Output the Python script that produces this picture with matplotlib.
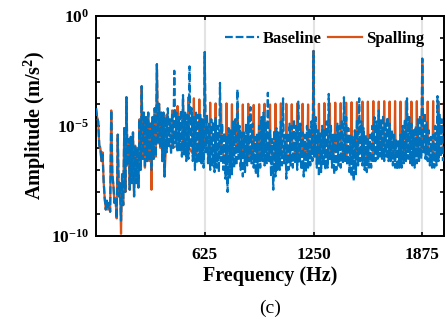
import numpy as np
import matplotlib
matplotlib.use('Agg')
from matplotlib import pyplot as plt

###############################################################################
# spectra, log10 of amplitude (m/s^2)
# baseline: max / min value inside each 12.5 Hz bin, 0 .. 1987.5 Hz
bin_step = 12.5
base_hi = [-4.2, -4.8, -6.0, -6.2, -8.3, -8.4, -8.5, -4.3,      # 0
           -7.7, -8.3, -5.4, -7.6, -7.2, -5.1, -3.7, -5.6,      # 100
           -5.5, -5.3, -5.9, -6.0, -4.7, -3.2, -4.4, -4.6,      # 200
           -4.4, -4.9, -4.6, -4.2, -2.2, -4.0, -4.4, -4.4,      # 300
           -4.6, -4.2, -4.7, -4.4, -2.5, -4.4, -4.6, -4.3,      # 400
           -3.6, -4.4, -4.5, -2.3, -4.2, -4.6, -4.4, -4.5,      # 500
           -4.5, -4.7, -1.65, -4.5, -4.9, -4.7, -4.8, -4.6,     # 600
           -5.0, -3.05, -4.9, -5.3, -5.5, -5.1, -5.2, -4.8,     # 700
           -4.7, -3.35, -5.0, -5.3, -5.3, -4.9, -4.6, -4.15,    # 800
           -4.9, -5.5, -5.4, -5.0, -4.6, -4.4, -4.8, -3.5,      # 900
           -5.2, -5.6, -5.2, -5.1, -5.3, -4.8, -3.75, -5.4,     # 1000
           -5.3, -4.9, -5.0, -4.7, -5.0, -3.9, -4.9, -5.3,      # 1100
           -5.4, -5.0, -5.1, -4.8, -1.6, -4.6, -5.2, -5.3,      # 1200
           -5.0, -5.2, -4.8, -3.55, -5.0, -5.4, -5.3, -4.9,     # 1300
           -5.0, -4.7, -3.7, -4.6, -5.1, -5.4, -5.5, -5.2,      # 1400
           -4.7, -3.75, -4.8, -5.1, -5.4, -5.6, -5.4, -5.0,     # 1500
           -4.6, -4.8, -4.3, -4.7, -4.5, -4.8, -4.6, -4.9,      # 1600
           -5.2, -5.4, -5.6, -5.7, -5.4, -5.0, -4.7, -3.75,     # 1700
           -4.6, -4.9, -5.2, -5.0, -4.7, -4.5, -1.95, -4.4,     # 1800
           -4.8, -5.2, -5.5, -5.4, -5.0, -3.65, -4.5, -4.7]     # 1900
base_lo = [-4.6, -5.9, -6.6, -7.5, -8.8, -8.8, -8.9, -7.2,
           -8.5, -9.2, -8.2, -9.3, -8.6, -8.0, -6.8, -7.9,
           -7.6, -8.2, -7.6, -7.8, -7.0, -6.5, -6.9, -6.6,
           -6.6, -7.0, -6.5, -6.4, -5.8, -6.0, -6.6, -7.3,
           -6.2, -6.0, -6.3, -6.0, -5.8, -6.2, -6.1, -6.4,
           -6.3, -6.6, -6.5, -6.0, -6.6, -7.0, -6.7, -6.6,
           -6.7, -6.9, -6.2, -6.7, -7.0, -6.8, -7.1, -6.9,
           -7.1, -6.6, -7.0, -7.4, -8.0, -7.4, -7.2, -6.9,
           -6.8, -6.5, -7.0, -7.3, -7.1, -6.8, -6.6, -6.7,
           -6.9, -7.2, -7.3, -6.9, -6.6, -6.8, -6.7, -6.6,
           -7.3, -7.9, -7.3, -7.0, -7.0, -6.8, -6.7, -7.4,
           -7.0, -6.8, -6.9, -6.7, -7.0, -6.7, -7.0, -7.3,
           -7.1, -6.9, -6.8, -6.6, -6.4, -6.9, -7.3, -7.1,
           -6.8, -7.0, -6.9, -6.6, -6.9, -7.2, -7.0, -6.8,
           -6.9, -6.7, -6.6, -6.8, -7.1, -7.3, -7.5, -7.2,
           -6.8, -6.6, -6.8, -7.0, -7.1, -6.9, -6.9, -6.7,
           -6.6, -6.5, -6.4, -6.5, -6.6, -6.4, -6.6, -6.6,
           -6.8, -6.9, -7.0, -6.9, -6.9, -6.7, -6.6, -6.5,
           -6.7, -6.8, -6.9, -6.7, -6.6, -6.5, -6.2, -6.5,
           -6.6, -6.8, -6.9, -6.9, -6.8, -6.6, -6.4, -6.6]

# spalling below 400 Hz (same 12.5 Hz bins), nearly on top of the baseline
spall_hi = [-4.2, -4.8, -6.0, -6.2, -8.3, -8.4, -8.5, -4.3,
            -7.7, -8.3, -5.4, -7.6, -7.2, -5.1, -3.7, -5.6,
            -5.5, -5.3, -5.9, -6.0, -4.7, -3.2, -4.4, -4.6,
            -4.4, -4.9, -4.6, -4.2, -2.2, -4.0, -4.4, -4.4]
spall_lo = [-4.6, -5.9, -6.6, -7.5, -8.8, -8.8, -8.9, -7.2,
            -8.5, -9.2, -8.2, -9.9, -8.6, -8.0, -6.8, -7.9,
            -7.6, -8.2, -7.6, -7.8, -7.0, -6.5, -6.9, -6.6,
            -6.6, -7.9, -6.5, -6.4, -5.8, -6.0, -6.6, -7.3]

# spalling comb above 400 Hz: one tooth every 31.25 Hz (harmonics 13..64)
tooth_n = np.arange(13, 65)
tooth_top = [-4.5, -4.3, -4.1, -3.8, -3.7, -3.75, -3.8,
             -1.65, -3.95, -3.98, -4.0, -3.98, -4.02, -4.0, -4.03, -4.0, -4.05,
             -4.02, -4.0, -4.03, -4.0, -3.98, -4.0, -4.02, -3.98, -4.0, -4.03,
             -1.6, -4.0, -3.97, -3.98, -3.95, -3.97, -3.95, -3.93, -3.92, -3.9,
             -3.9, -3.88, -3.9, -3.88, -3.9, -3.88, -3.9, -3.88, -3.9, -3.88,
             -1.95, -3.9, -3.88, -3.9, -3.9]
tooth_low = [-5.8, -6.0, -5.9, -6.2, -6.0, -6.3, -6.1,
             -6.0, -6.2, -6.4, -6.1, -6.6, -6.3, -6.0, -6.2, -6.5, -6.1,
             -6.3, -6.0, -6.2, -6.5, -6.2, -6.7, -6.0, -6.3, -6.1, -6.2,
             -6.0, -6.4, -6.1, -6.3, -6.2, -6.0, -6.5, -6.6, -6.2, -6.0,
             -6.4, -6.3, -6.1, -5.9, -6.0, -6.2, -6.4, -6.0, -5.9, -6.1,
             -6.0, -6.3, -6.4, -6.1, -6.0]

labels = ('Baseline', 'Spalling')
colors = ('#0072BD', '#D95319')
xtick_vals = [625, 1250, 1875]

###############################################################################
plt.rcParams['font.family'] = 'Liberation Serif'
plt.rcParams['font.weight'] = 'bold'
plt.rcParams['mathtext.fontset'] = 'custom'
plt.rcParams['mathtext.rm'] = 'Liberation Serif:bold'
plt.rcParams['mathtext.bf'] = 'Liberation Serif:bold'
plt.rcParams['mathtext.it'] = 'Liberation Serif:bold:italic'


def zigzag(f, hi, lo, step):
    # max then min of each bin, drawn as one dense line
    x = np.empty(2 * len(f))
    y = np.empty(2 * len(f))
    x[0::2] = f
    x[1::2] = f + step / 2
    y[0::2] = hi
    y[1::2] = lo
    return x, 10.0 ** y


fb = np.arange(len(base_hi)) * bin_step
bx, by = zigzag(fb, base_hi, base_lo, bin_step)

fs = np.arange(len(spall_hi)) * bin_step
sx, sy = zigzag(fs, spall_hi, spall_lo, bin_step)
tf = tooth_n * 31.25
w = 3.5   # half width of a tooth (Hz)
tx = np.column_stack([tf - w, tf, tf + w]).ravel()
ty = 10.0 ** np.column_stack([tooth_low, tooth_top, tooth_low]).ravel()
sx = np.concatenate([sx, tx])
sy = np.concatenate([sy, ty])

fig = plt.figure(figsize=(4.48, 3.2), dpi=100)
ax = fig.add_axes([0.2143, 0.2625, 0.7768, 0.6885])

for xv in xtick_vals:
    ax.axvline(xv, color='#e3e3e3', linewidth=1.5, zorder=0)

l2, = ax.plot(sx, sy, color=colors[1], linewidth=1.6, zorder=2, label=labels[1])
l1, = ax.plot(bx, by, color=colors[0], linewidth=1.6, linestyle='--',
              dashes=(3.5, 1.3), zorder=3, label=labels[0])

ax.set_yscale('log')
ax.set_xlim(0, 2000)
ax.set_ylim(1e-10, 1e0)
ax.set_xticks(xtick_vals)
ax.set_xticklabels([str(v) for v in xtick_vals])
yt = [10.0 ** e for e in range(-10, 1)]
ax.set_yticks(yt)
ax.set_yticklabels([r'$10^{%d}$' % e if e % 5 == 0 else '' for e in range(-10, 1)])
ax.yaxis.set_minor_locator(matplotlib.ticker.NullLocator())

ax.tick_params(direction='in', length=3, width=1.2, labelsize=12.5,
               top=True, right=True)
ax.tick_params(axis='x', pad=8)
ax.tick_params(axis='y', pad=5)
for s in ax.spines.values():
    s.set_linewidth(1.4)

ax.set_xlabel('Frequency (Hz)', fontsize=14.5, fontweight='bold', labelpad=2)
ax.set_ylabel(r'Amplitude (m/s$^2$)', fontsize=14.5, fontweight='bold', labelpad=2)

ax.legend([l1, l2], labels, loc='center', bbox_to_anchor=(0.657, 0.894),
          ncol=2, frameon=False, fontsize=12, handlelength=2.0,
          handletextpad=0.25, columnspacing=0.4)

fig.text(0.6027, 0.0375, '(c)', ha='center', va='center', fontsize=14,
         fontweight='normal')

fig.savefig('out.png', dpi=100)
